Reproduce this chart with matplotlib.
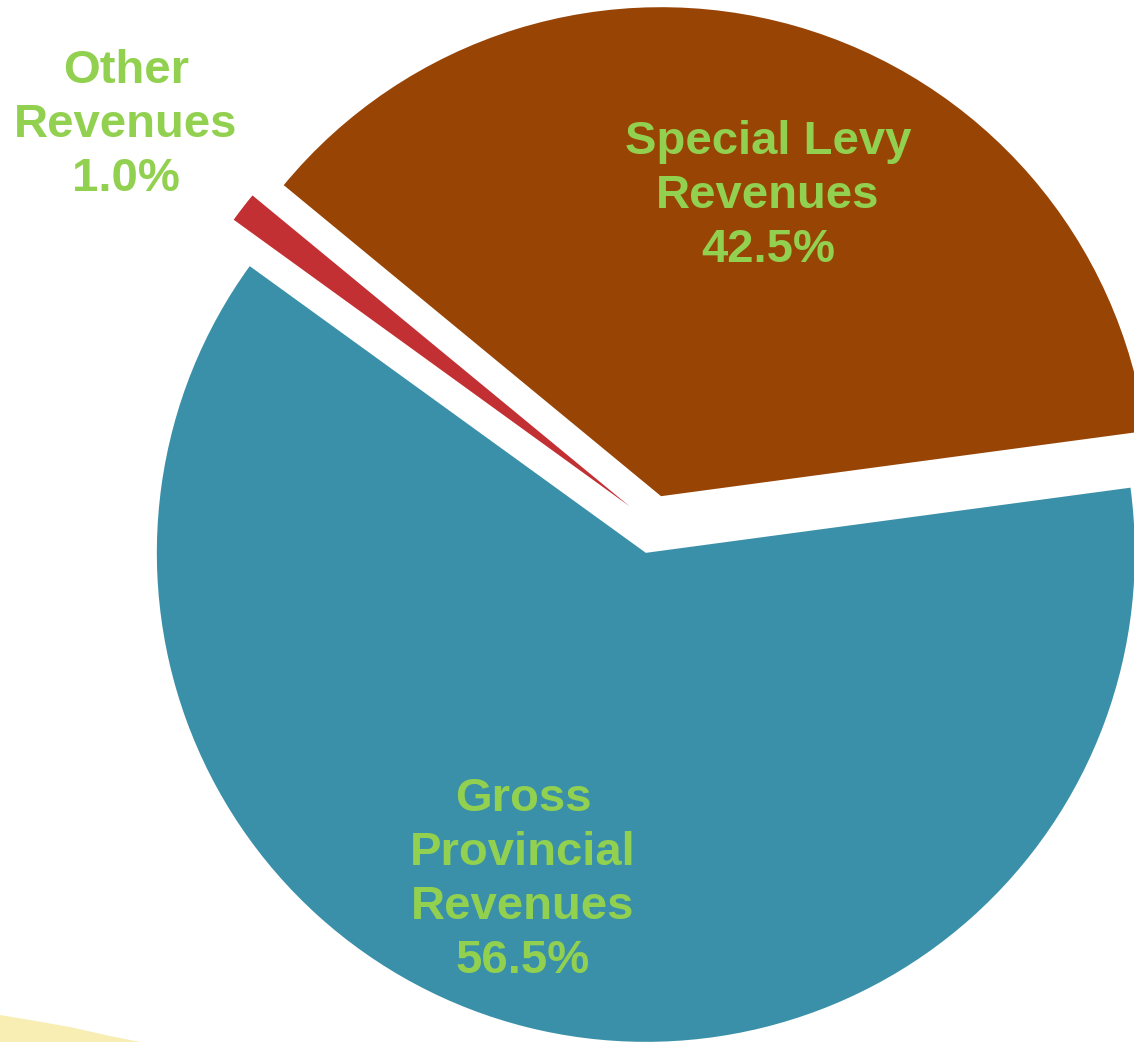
import matplotlib
matplotlib.use("Agg")
import matplotlib.pyplot as plt
from matplotlib.patches import Polygon

names = ["Special Levy\nRevenues", "Gross\nProvincial\nRevenues", "Other\nRevenues"]
shares = [36.9, 62.1, 1.0]
pct_labels = ["42.5%", "56.5%", "1.0%"]
colors = ["#984405", "#3A90A8", "#C33033"]

# label centres in image pixels (x, y from top)
label_pos = [(768, 196), (523, 880), (126, 125)]

W, H = 1134, 1042
fig = plt.figure(figsize=(W / 100, H / 100), dpi=100)
fig.patch.set_facecolor("white")

# pale yellow shape in the bottom-left corner
yellow = [(0, 1015), (30, 1020), (70, 1027), (110, 1036), (140, 1042), (0, 1042)]
fig.patches.append(Polygon([(x / W, 1 - y / H) for x, y in yellow], closed=True,
                           transform=fig.transFigure, facecolor="#F8EDB3",
                           edgecolor="none", zorder=0))

ax = fig.add_axes([0, 0, 1, 1])
ax.patch.set_alpha(0)

# pie centre at (653, 524) px, radius 489 px
R, cx, cy = 489.0, 653.0, 524.4
ax.pie(shares, colors=colors, startangle=140.5, counterclock=False,
       explode=[0.06, 0.06, 0.06], radius=1,
       wedgeprops=dict(linewidth=0))
ax.set_xlim(-cx / R, (W - cx) / R)
ax.set_ylim(-(H - cy) / R, cy / R)
ax.set_aspect("auto")
ax.axis("off")

for name, pct, (x, y) in zip(names, pct_labels, label_pos):
    fig.text(x / W, 1 - y / H, name + "\n" + pct, ha="center", va="center",
             color="#92D050", fontsize=34, fontweight="bold",
             family=["Liberation Sans", "DejaVu Sans"], linespacing=1.3)

fig.savefig("out.png", dpi=100)
